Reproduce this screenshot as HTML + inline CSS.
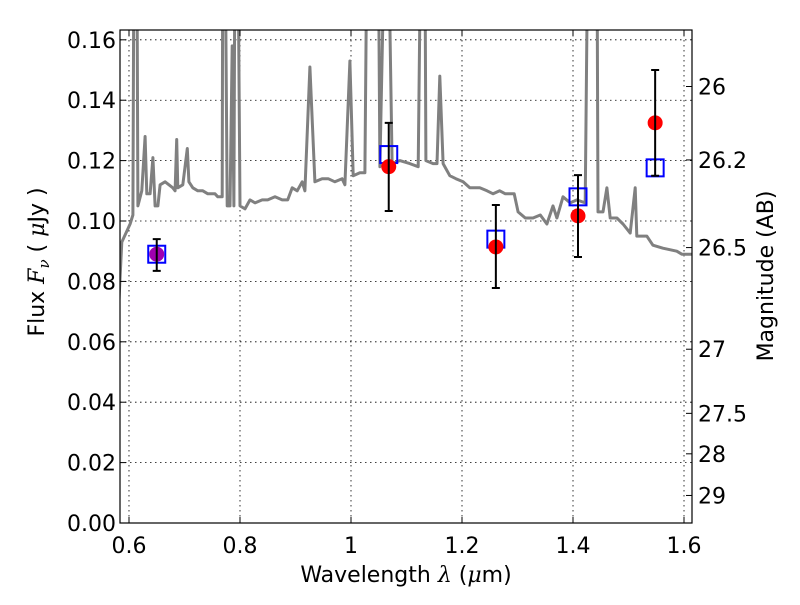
<!DOCTYPE html>
<html><head><meta charset="utf-8"><style>
body{margin:0;background:#fff;}
svg text{font-family:"DejaVu Sans","Liberation Sans",sans-serif;fill:#000;}
</style></head><body>
<svg id="chart" width="800" height="600" viewBox="0 0 800 600">
<defs><clipPath id="clip"><rect x="120" y="30" width="572" height="493"/></clipPath></defs>
<rect x="0" y="0" width="800" height="600" fill="#fff"/>
<g id="grid"></g>
<g id="spec" clip-path="url(#clip)"></g>
<g id="marks"></g>
<rect x="120" y="30" width="572" height="493" fill="none" stroke="#000" stroke-width="1.2"/>
<g id="axes"></g>
<text x="406" y="582" font-size="22" text-anchor="middle">Wavelength  <tspan font-family="DejaVu Serif" font-style="italic">λ</tspan> (<tspan font-family="DejaVu Serif" font-style="italic">μ</tspan>m)</text>
<text transform="translate(44,262) rotate(-90)" font-size="22" text-anchor="middle">Flux  <tspan font-family="DejaVu Serif" font-style="italic">F</tspan><tspan font-family="DejaVu Serif" font-style="italic" font-size="15" dy="5">ν</tspan><tspan dy="-5">  (  </tspan><tspan font-family="DejaVu Serif" font-style="italic">μ</tspan>Jy )</text>
<text transform="translate(773,276) rotate(-90)" font-size="22" text-anchor="middle">Magnitude (AB)</text>
</svg>
<script>
const specWl=[0.582,0.587,0.602,0.607,0.609,0.614,0.616,0.623,0.629,0.632,0.638,0.643,0.647,0.652,0.656,0.665,0.679,0.683,0.686,0.688,0.697,0.705,0.708,0.715,0.724,0.733,0.742,0.755,0.760,0.768,0.769,0.773,0.777,0.782,0.786,0.789,0.791,0.796,0.800,0.809,0.818,0.827,0.840,0.850,0.863,0.876,0.886,0.894,0.903,0.912,0.917,0.926,0.935,0.948,0.959,0.971,0.984,0.989,0.998,1.004,1.016,1.025,1.029,1.049,1.052,1.061,1.067,1.074,1.088,1.106,1.121,1.126,1.133,1.135,1.148,1.155,1.160,1.166,1.178,1.189,1.202,1.214,1.232,1.245,1.256,1.268,1.278,1.294,1.301,1.314,1.328,1.341,1.353,1.364,1.371,1.382,1.395,1.407,1.422,1.427,1.443,1.445,1.454,1.461,1.467,1.479,1.490,1.503,1.512,1.515,1.533,1.544,1.562,1.587,1.596,1.614];
const specFlux=[0.074,0.093,0.099,0.102,0.2,0.2,0.105,0.110,0.128,0.109,0.109,0.121,0.105,0.105,0.112,0.113,0.111,0.110,0.127,0.111,0.112,0.124,0.113,0.111,0.110,0.110,0.109,0.109,0.108,0.108,0.2,0.2,0.105,0.105,0.158,0.105,0.2,0.2,0.105,0.104,0.107,0.106,0.107,0.107,0.108,0.107,0.107,0.111,0.110,0.113,0.110,0.151,0.113,0.114,0.114,0.113,0.114,0.112,0.153,0.115,0.116,0.116,0.2,0.2,0.118,0.2,0.2,0.119,0.120,0.119,0.118,0.2,0.2,0.120,0.119,0.119,0.148,0.119,0.115,0.114,0.113,0.111,0.111,0.110,0.109,0.110,0.109,0.109,0.103,0.101,0.101,0.102,0.099,0.105,0.101,0.108,0.106,0.107,0.106,0.2,0.2,0.103,0.103,0.111,0.101,0.101,0.099,0.096,0.111,0.095,0.095,0.092,0.091,0.090,0.089,0.089];
const obsWl=[0.650,1.068,1.261,1.409,1.548];
const obsFlux=[0.0890,0.1180,0.0914,0.1017,0.1325];
const obsErrHi=[0.0940,0.1325,0.1053,0.1152,0.1500];
const obsErrLo=[0.0835,0.1033,0.0778,0.0881,0.1150];
const obsColors=['#a000b0','#ff0000','#ff0000','#ff0000','#ff0000'];
const modelFlux=[0.0890,0.1220,0.0940,0.1080,0.1176];
const xTicks=[0.6,0.8,1.0,1.2,1.4,1.6];
const xTickLabels=['0.6','0.8','1','1.2','1.4','1.6'];
const yTicks=[0,0.02,0.04,0.06,0.08,0.10,0.12,0.14,0.16];
const yTickLabels=['0.00','0.02','0.04','0.06','0.08','0.10','0.12','0.14','0.16'];
const magTicks=[26,26.2,26.5,27,27.5,28,29];
const magTickLabels=['26','26.2','26.5','27','27.5','28','29'];

const NS='http://www.w3.org/2000/svg';
const X0=120,X1=692,Y0=523,Y1=30;
const xmin=0.5838,xmax=1.6144,ymin=0,ymax=0.16325;
const sx=v=>X0+(v-xmin)/(xmax-xmin)*(X1-X0);
const sy=v=>Y0-(v-ymin)/(ymax-ymin)*(Y0-Y1);
const magToFlux=m=>Math.pow(10,(23.9-m)/2.5);
function mk(tag,attrs,parent){const e=document.createElementNS(NS,tag);for(const k in attrs)e.setAttribute(k,attrs[k]);parent.appendChild(e);return e;}
const grid=document.getElementById('grid'),axes=document.getElementById('axes'),spec=document.getElementById('spec'),marks=document.getElementById('marks');

xTicks.forEach((t,i)=>{const x=sx(t);
 const g=mk('line',{x1:x,x2:x,y1:Y1,y2:Y0,stroke:'#000','stroke-width':0.8,'stroke-dasharray':'1.5,3.5'},grid);
 
 
 mk('line',{x1:x,x2:x,y1:Y0,y2:Y0-6,stroke:'#000'},axes);
 mk('line',{x1:x,x2:x,y1:Y1,y2:Y1+6,stroke:'#000'},axes);
 const tx=mk('text',{x:x,y:Y0+30,'font-size':22,'text-anchor':'middle'},axes);tx.textContent=xTickLabels[i];
 
 
});
yTicks.forEach((t,i)=>{const y=sy(t);
 const g=mk('line',{x1:X0,x2:X1,y1:y,y2:y,stroke:'#000','stroke-width':0.8,'stroke-dasharray':'1.5,3.5'},grid);
 
 
 mk('line',{x1:X0,x2:X0+6,y1:y,y2:y,stroke:'#000'},axes);
 const tx=mk('text',{x:X0-4,y:y+8,'font-size':22,'text-anchor':'end'},axes);tx.textContent=yTickLabels[i];
 
 
});
magTicks.forEach((m,i)=>{const y=sy(magToFlux(m));
 mk('line',{x1:X1,x2:X1-6,y1:y,y2:y,stroke:'#000'},axes);
 const tx=mk('text',{x:X1+6,y:y+8,'font-size':22},axes);tx.textContent=magTickLabels[i];
 
 
});
const pts=specWl.map((w,i)=>sx(w).toFixed(1)+','+sy(specFlux[i]).toFixed(1)).join(' ');
const pl=mk('polyline',{points:pts,fill:'none',stroke:'#808080','stroke-width':3,'stroke-linejoin':'round'},spec);


obsWl.forEach((w,i)=>{const x=sx(w);
 const sq=mk('rect',{x:x-8.5,y:sy(modelFlux[i])-8.5,width:17,height:17,fill:'none',stroke:'#0000ff','stroke-width':2},marks);
 
 
 const c=mk('circle',{cx:x,cy:sy(obsFlux[i]),r:7.5,fill:obsColors[i]},marks);
 
 
 const yh=sy(obsErrHi[i]),yl=sy(obsErrLo[i]);
 const e=mk('path',{d:`M${x},${yh}V${yl}M${x-4},${yh}H${x+4}M${x-4},${yl}H${x+4}`,stroke:'#000','stroke-width':2,fill:'none'},marks);
 
 
});
</script>
</body></html>
